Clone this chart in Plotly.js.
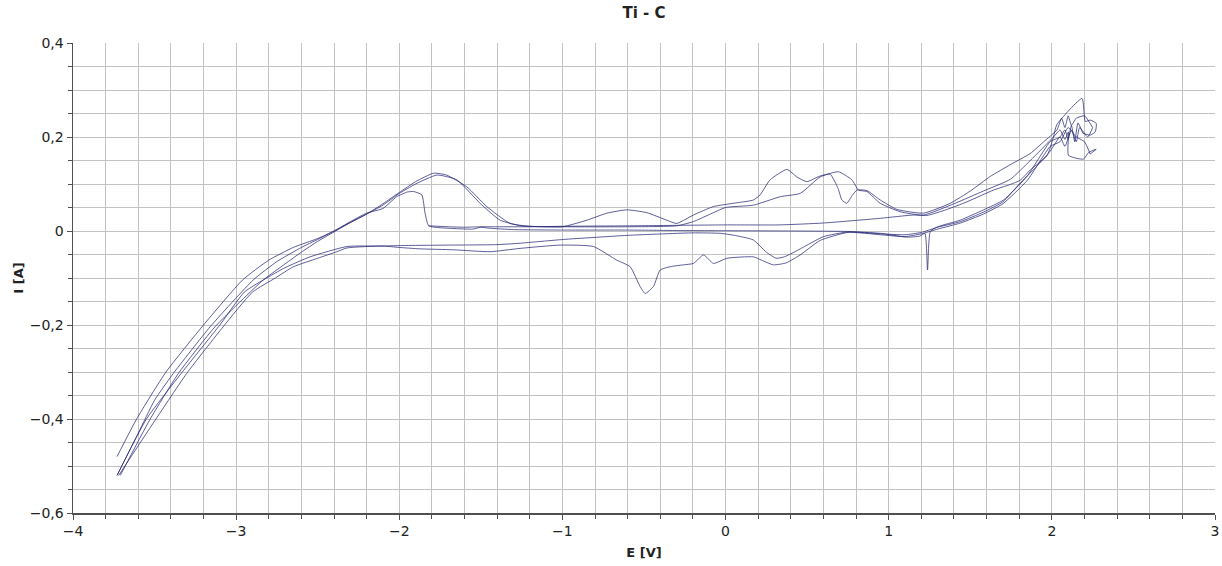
<!DOCTYPE html>
<html>
<head>
<meta charset="utf-8">
<script src="https://cdn.plot.ly/plotly-3.0.1.min.js"></script>
<style>html,body{margin:0;padding:0;background:#fff;}#chart{width:1222px;height:566px;}</style>
</head>
<body>
<div id="chart"></div>
<script>
// Start branch (anodic, begins after the current drop at about -1.82 V)
const startE = [-1.82, -1.7, -1.6, -1.5, -1.4, -1.2, -1.0, -0.6, -0.3, 0.0, 0.335, 0.6, 0.948, 1.15, 1.234, 1.35, 1.479, 1.642, 1.745, 1.806, 1.868, 1.97, 2.01, 2.03, 2.185, 2.205, 2.235, 2.272, 2.266, 2.235, 2.19];
const startI = [0.011, 0.009, 0.008, 0.009, 0.009, 0.009, 0.010, 0.011, 0.012, 0.013, 0.013, 0.017, 0.027, 0.034, 0.033, 0.045, 0.062, 0.087, 0.099, 0.108, 0.130, 0.160, 0.200, 0.226, 0.282, 0.233, 0.236, 0.229, 0.211, 0.204, 0.208];

// Last cathodic sweep (spike at 1.24 V, jump at -1.82 V)
const cathLastE = [2.19, 2.16, 2.14, 2.12, 2.10, 2.08, 2.05, 1.99, 1.847, 1.704, 1.581, 1.438, 1.30, 1.255, 1.238, 1.222, 1.19, 1.11, 0.95, 0.75, 0.4, 0.0, -0.3, -0.6, -1.0, -1.3, -1.45, -1.5, -1.55, -1.65, -1.75, -1.82, -1.842, -1.862, -1.913, -1.95, -2.016, -2.1, -2.2, -2.3, -2.4, -2.5, -2.65, -2.8, -2.96, -3.2, -3.43, -3.61, -3.73];
const cathLastI = [0.208, 0.230, 0.190, 0.225, 0.195, 0.215, 0.200, 0.190, 0.116, 0.066, 0.045, 0.023, 0.009, -0.001, -0.083, -0.005, -0.011, -0.013, -0.005, -0.001, 0.000, 0.0006, 0.001, 0.002, 0.002, 0.003, 0.006, 0.008, 0.004, 0.005, 0.007, 0.011, 0.038, 0.077, 0.084, 0.083, 0.073, 0.048, 0.038, 0.020, 0.000, -0.016, -0.035, -0.062, -0.104, -0.200, -0.300, -0.400, -0.480];

// Cathodic sweep 2 (reduction dip near 0.3 V)
const cath2E = [2.25, 2.22, 2.17, 2.15, 2.12, 2.08, 2.05, 1.99, 1.9, 1.8, 1.7, 1.58, 1.44, 1.3, 1.2, 1.1, 0.95, 0.75, 0.6, 0.5, 0.42, 0.36, 0.31, 0.25, 0.17, 0.05, -0.03, -0.2, -0.585, -0.994, -1.26, -1.4, -1.7, -2.0, -2.1, -2.32, -2.547, -2.7, -2.833, -2.95, -3.1, -3.33, -3.55, -3.73];
const cath2I = [0.220, 0.200, 0.220, 0.190, 0.215, 0.180, 0.200, 0.170, 0.135, 0.100, 0.062, 0.040, 0.020, 0.008, -0.003, -0.008, -0.006, -0.002, -0.012, -0.030, -0.045, -0.055, -0.058, -0.045, -0.019, -0.009, -0.005, -0.004, -0.009, -0.018, -0.026, -0.029, -0.030, -0.031, -0.032, -0.033, -0.055, -0.078, -0.104, -0.130, -0.200, -0.300, -0.400, -0.520];

// Cathodic sweep 3 (large reduction peak near -0.5 V)
const cath3E = [2.235, 2.2, 2.15, 2.1, 2.05, 1.99, 1.85, 1.7, 1.58, 1.44, 1.3, 1.2, 1.1, 0.95, 0.75, 0.58, 0.457, 0.37, 0.293, 0.22, 0.171, 0.008, -0.074, -0.135, -0.197, -0.258, -0.34, -0.401, -0.442, -0.493, -0.524, -0.585, -0.667, -0.81, -1.014, -1.26, -1.443, -1.668, -1.873, -2.0, -2.1, -2.32, -2.383, -2.5, -2.649, -2.76, -2.9, -3.08, -3.303, -3.53, -3.72];
const cath3I = [0.164, 0.190, 0.200, 0.220, 0.190, 0.180, 0.108, 0.058, 0.036, 0.017, 0.004, -0.006, -0.012, -0.008, -0.003, -0.020, -0.051, -0.068, -0.072, -0.062, -0.055, -0.058, -0.069, -0.051, -0.069, -0.072, -0.076, -0.083, -0.118, -0.133, -0.118, -0.076, -0.062, -0.033, -0.030, -0.037, -0.044, -0.040, -0.038, -0.035, -0.032, -0.036, -0.044, -0.058, -0.076, -0.100, -0.130, -0.204, -0.303, -0.420, -0.520];

// Anodic sweep 2 (peaks at -1.8, -0.6, 0.38, 0.64 V)
const anod2E = [-3.73, -3.6, -3.5, -3.385, -3.16, -2.895, -2.75, -2.6, -2.5, -2.4, -2.3, -2.2, -2.1, -2.0, -1.9, -1.79, -1.71, -1.586, -1.464, -1.32, -1.2, -1.0, -0.85, -0.727, -0.605, -0.483, -0.36, -0.3, -0.197, -0.074, 0.048, 0.171, 0.212, 0.273, 0.376, 0.437, 0.498, 0.58, 0.641, 0.69, 0.713, 0.743, 0.775, 0.805, 0.866, 0.948, 1.05, 1.213, 1.377, 1.5, 1.622, 1.75, 1.868, 1.95, 2.031, 2.06, 2.08, 2.1, 2.12, 2.15, 2.2, 2.25];
const anod2I = [-0.520, -0.430, -0.360, -0.303, -0.204, -0.104, -0.065, -0.035, -0.018, 0.000, 0.018, 0.036, 0.058, 0.082, 0.105, 0.123, 0.119, 0.094, 0.052, 0.016, 0.010, 0.009, 0.023, 0.038, 0.045, 0.039, 0.023, 0.016, 0.034, 0.052, 0.059, 0.066, 0.077, 0.109, 0.131, 0.115, 0.105, 0.117, 0.121, 0.090, 0.066, 0.059, 0.075, 0.087, 0.086, 0.066, 0.046, 0.038, 0.059, 0.085, 0.116, 0.142, 0.165, 0.190, 0.215, 0.240, 0.220, 0.245, 0.225, 0.240, 0.245, 0.220];

// Anodic sweep 3 (peaks at -1.77 and 0.69 V)
const anod3E = [-3.71, -3.53, -3.354, -3.13, -2.833, -2.7, -2.6, -2.5, -2.4, -2.3, -2.2, -2.1, -2.0, -1.9, -1.77, -1.648, -1.505, -1.382, -1.25, -1.0, -0.6, -0.3, -0.197, -0.1, 0.0, 0.171, 0.335, 0.457, 0.58, 0.692, 0.774, 0.815, 0.866, 0.948, 1.07, 1.213, 1.4, 1.58, 1.745, 1.868, 2.01, 2.05, 2.08, 2.102, 2.102, 2.194, 2.225, 2.272, 2.235];
const anod3I = [-0.520, -0.402, -0.303, -0.204, -0.104, -0.070, -0.045, -0.022, -0.002, 0.018, 0.036, 0.055, 0.080, 0.100, 0.119, 0.109, 0.059, 0.023, 0.011, 0.009, 0.009, 0.011, 0.020, 0.035, 0.050, 0.055, 0.073, 0.080, 0.115, 0.126, 0.109, 0.087, 0.084, 0.059, 0.041, 0.034, 0.058, 0.085, 0.110, 0.150, 0.200, 0.215, 0.195, 0.211, 0.161, 0.153, 0.167, 0.174, 0.164];

const branches = [
  [startE, startI], [cathLastE, cathLastI], [cath2E, cath2I],
  [cath3E, cath3I], [anod2E, anod2I], [anod3E, anod3I]
];

const lineColor = 'rgba(40,40,120,0.75)';
const traces = branches.map(b => ({
  x: b[0], y: b[1], type: 'scatter', mode: 'lines',
  line: {color: lineColor, width: 1, shape: 'spline', smoothing: 0.5}, hoverinfo: 'skip'
}));

const gridC = '#c2c2c2';
const axC = '#505050';
const fontFam = 'DejaVu Sans, Verdana, sans-serif';

const layout = {
  width: 1222, height: 566,
  margin: {l: 73, r: 7, t: 43, b: 53},
  paper_bgcolor: '#ffffff', plot_bgcolor: '#ffffff',
  separators: ', ',
  showlegend: false,
  font: {family: fontFam, color: '#222'},
  title: {text: '<b>Ti - C</b>', x: 0.5, xref: 'paper', y: 0.978, yref: 'container', yanchor: 'middle',
          font: {family: fontFam, size: 15, color: '#222'}},
  xaxis: {
    range: [-4, 3], tick0: 0, dtick: 1, showline: true, linecolor: axC, linewidth: 1.5,
    ticks: 'outside', ticklen: 5, tickcolor: axC, tickwidth: 1,
    showgrid: true, gridcolor: gridC, gridwidth: 1, zeroline: false,
    tickfont: {family: fontFam, size: 14, color: '#222'},
    title: {text: '<b>E [V]</b>', standoff: 9, font: {family: fontFam, size: 13, color: '#222'}},
    minor: {dtick: 0.2, ticks: 'outside', ticklen: 4, tickcolor: axC, showgrid: true, gridcolor: gridC, gridwidth: 1},
    automargin: false
  },
  yaxis: {
    range: [-0.6, 0.4], tick0: 0, dtick: 0.2, showline: true, linecolor: axC, linewidth: 1.5,
    ticks: 'outside', ticklen: 5, tickcolor: axC, tickwidth: 1,
    showgrid: true, gridcolor: gridC, gridwidth: 1, zeroline: false,
    tickfont: {family: fontFam, size: 14, color: '#222'},
    title: {text: '<b>I [A]</b>', standoff: 3, font: {family: fontFam, size: 13, color: '#222'}},
    minor: {dtick: 0.05, ticks: 'outside', ticklen: 4, tickcolor: axC, showgrid: true, gridcolor: gridC, gridwidth: 1},
    automargin: false
  }
};

Plotly.newPlot('chart', traces, layout, {staticPlot: true, displayModeBar: false});
</script>
</body>
</html>
